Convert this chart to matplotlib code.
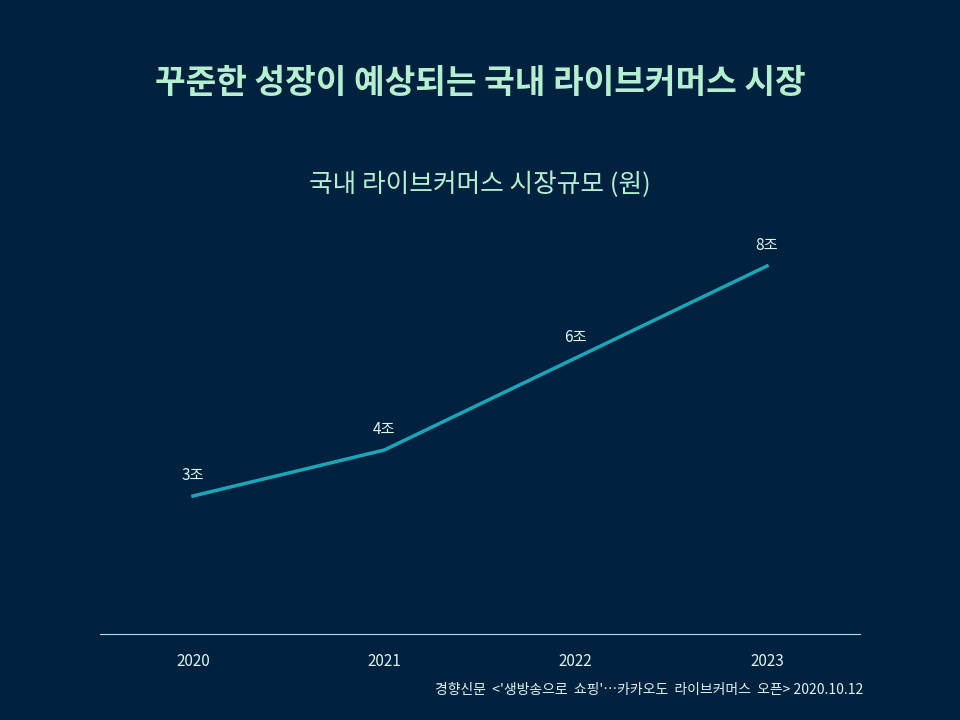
#!usr/bin/env python3
"""
Plot of the domestic live commerce market size per year.
Written to out.png.
"""

import matplotlib
matplotlib.use("Agg")
import matplotlib.pyplot as plt

# Set matplotlib font
font = {'size': 12, 'family': ['Noto Sans CJK KR', 'DejaVu Sans']}
matplotlib.rc('font', **font)

years = [2020, 2021, 2022, 2023]
market_size = [3, 4, 6, 8]
value_labels = ["3조", "4조", "6조", "8조"]

bg_color = "#00223f"
line_color = "#1ba6b8"
text_color = "#b4f0d0"

# Set up plot
fig = plt.figure(figsize=(9.6, 7.2), dpi=100, facecolor=bg_color)
ax = fig.add_axes([100 / 960, 86 / 720, 760 / 960, 414 / 720], facecolor=bg_color)
ax.plot(years, market_size, color=line_color, linewidth=2.5)
for x, y, lab in zip(years, market_size, value_labels):
    ax.annotate(lab, (x, y), xytext=(0, 9), textcoords="offset points",
                ha="center", va="bottom", color="#e0f4ee", fontsize=11)

ax.set_xlim(2019.514, 2023.486)
ax.set_ylim(0, 9)
ax.set_xticks(years)
ax.set_xticklabels([str(y) for y in years], color="#e0f4ee", fontsize=11)
ax.tick_params(axis="x", length=0, pad=14)
ax.set_yticks([])
for side in ["top", "right", "left"]:
    ax.spines[side].set_visible(False)
ax.spines["bottom"].set_color("#b8d8e0")
ax.spines["bottom"].set_linewidth(0.8)

# Titles
fig.text(0.5, 1 - 84 / 720, "꾸준한 성장이 예상되는 국내 라이브커머스 시장", ha="center", va="center",
         color=text_color, fontsize=24, fontweight="bold")
fig.text(0.5, 1 - 185 / 720, "국내 라이브커머스 시장규모 (원)", ha="center", va="center",
         color=text_color, fontsize=18.5)
fig.text(863 / 960, 1 - 690 / 720, "경향신문  <'생방송으로  쇼핑'…카카오도  라이브커머스  오픈> 2020.10.12",
         ha="right", va="center", color="#e0f4ee", fontsize=10)

# Save plots
plt.savefig("out.png", facecolor=bg_color)
